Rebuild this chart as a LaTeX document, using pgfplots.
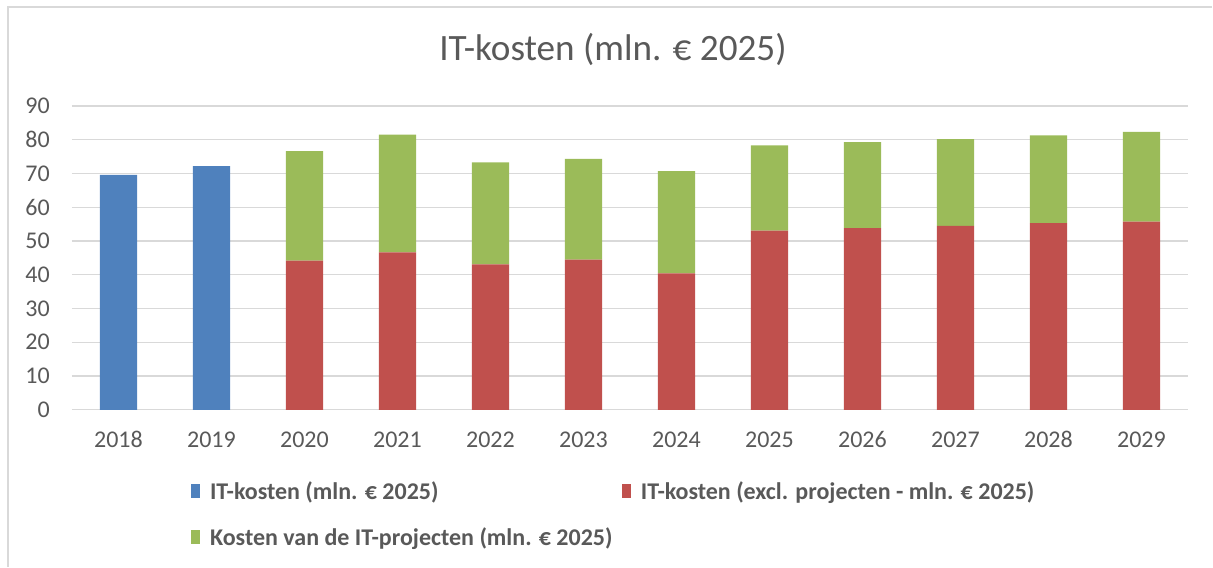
\documentclass[border=0pt]{standalone}
\usepackage{pgfplots}
\pgfplotsset{compat=1.18}
\usepackage{fontspec}
\setmainfont{Carlito}

\definecolor{itblue}{HTML}{4F81BD}
\definecolor{itred}{HTML}{C0504D}
\definecolor{itgreen}{HTML}{9BBB59}
\definecolor{gridgray}{HTML}{D9D9D9}
\definecolor{txtgray}{HTML}{595959}

\begin{document}
\begin{tikzpicture}
% canvas 1213x567 px at 0.75pt per px
\path (0pt,0pt) rectangle (909.75pt,425.25pt);
\draw[gridgray, line width=1.1pt] (6pt,0pt) -- (6pt,420pt) -- (909.75pt,420pt);
\node[text=txtgray, font=\fontsize{27.9}{32}\selectfont] at (460pt,387.75pt)
  {IT-kosten (mln. € 2025)};

\begin{axis}[at={(54pt,117.75pt)}, anchor=south west,
  scale only axis, width=837.5pt, height=228pt,
  ybar stacked, bar width=0.4,
  xmin=-0.5, xmax=11.5, ymin=0, ymax=90,
  xtick={0,...,11},
  xticklabels={2018,2019,2020,2021,2022,2023,2024,2025,2026,2027,2028,2029},
  ytick={0,10,...,90},
  ymajorgrids, grid style={gridgray, line width=1pt},
  axis line style={draw=none}, major tick length=0pt,
  /pgf/number format/assume math mode=true,
  tick label style={font=\fontsize{18}{18}\selectfont, text=txtgray, inner sep=0pt},
  xticklabel style={anchor=center, yshift=-22.5pt},
  yticklabel style={anchor=east, xshift=-16.5pt},
  every axis plot/.append style={draw=none},
  legend columns=2, legend cell align=left,
  legend style={draw=none, fill=none, inner sep=0pt,
    at={(0.1065,-0.235)}, anchor=north west,
    font=\bfseries\fontsize{18}{18}\selectfont, text=txtgray,
    nodes={inner sep=0pt},
    /tikz/every odd column/.append style={column sep=7.5pt},
    /tikz/every even column/.append style={column sep=7pt},
    row sep=19.5pt},
  legend image code/.code={\fill[#1] (0pt,-5.25pt) rectangle (6.75pt,5.25pt);},
]
\addplot[fill=itblue] coordinates {(0,69.6)(1,72.2)(2,0)(3,0)(4,0)(5,0)(6,0)(7,0)(8,0)(9,0)(10,0)(11,0)};
\addlegendentry{IT-kosten (mln. € 2025)}
\addplot[fill=itred] coordinates {(0,0)(1,0)(2,44.2)(3,46.6)(4,43.1)(5,44.5)(6,40.4)(7,53.1)(8,53.8)(9,54.5)(10,55.3)(11,55.7)};
\addlegendentry{IT-kosten (excl. projecten - mln. € 2025)}
\addplot[fill=itgreen] coordinates {(0,0)(1,0)(2,32.4)(3,34.9)(4,30.2)(5,29.8)(6,30.3)(7,25.2)(8,25.5)(9,25.7)(10,26.0)(11,26.6)};
\addlegendentry{Kosten van de IT-projecten (mln. € 2025)}
\end{axis}
\end{tikzpicture}
\end{document}
